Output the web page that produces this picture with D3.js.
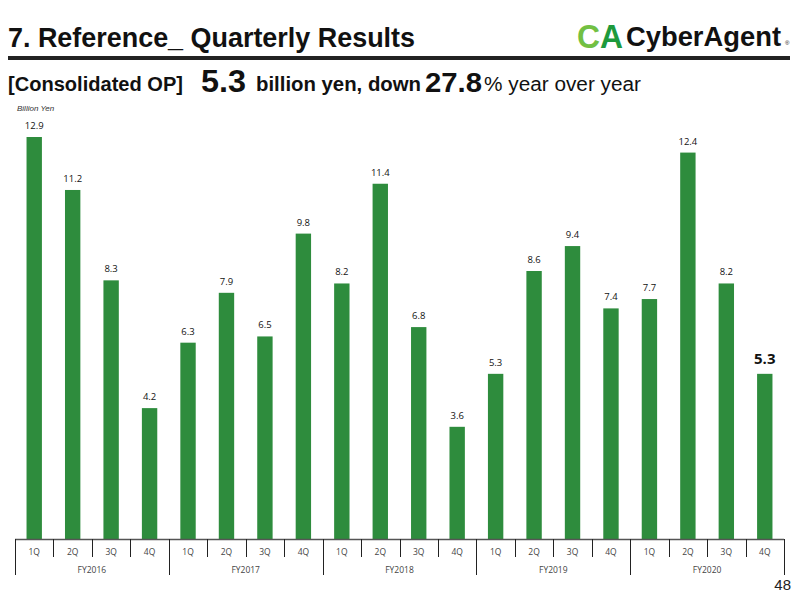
<!DOCTYPE html>
<html>
<head>
<meta charset="utf-8">
<script src="https://cdn.jsdelivr.net/npm/d3@7"></script>
<style>
  body { margin: 0; background: #fff; }
  svg { display: block; }
</style>
</head>
<body>
<svg width="800" height="600"></svg>
<script>
const years = ["FY2016", "FY2017", "FY2018", "FY2019", "FY2020"];
const quarters = ["1Q", "2Q", "3Q", "4Q"];
const opValues = [12.9, 11.2, 8.3, 4.2, 6.3, 7.9, 6.5, 9.8, 8.2, 11.4, 6.8, 3.6, 5.3, 8.6, 9.4, 7.4, 7.7, 12.4, 8.2, 5.3];

const data = [];
years.forEach((fy, i) => {
  quarters.forEach((q, j) => {
    data.push({ key: fy + "-" + q, fy: fy, q: q, value: opValues[i * 4 + j] });
  });
});

const svg = d3.select("svg");
const font = "'Liberation Sans', Arial, sans-serif";
const barColor = "#2e8c3d";

// squeezed text helper (narrow headline font look)
function fitText(x, y, size, width, str, weight) {
  return svg.append("text")
    .attr("x", x).attr("y", y)
    .attr("font-family", font).attr("font-weight", weight || "bold")
    .attr("font-size", size).attr("fill", "#111")
    .attr("textLength", width).attr("lengthAdjust", "spacingAndGlyphs")
    .text(str);
}

// header
fitText(8, 47, 28, 407, "7. Reference_ Quarterly Results");

svg.append("rect")
  .attr("x", 8).attr("y", 56).attr("width", 782).attr("height", 4)
  .attr("fill", "#222");

// logo
const ca = svg.append("text").attr("x", 577).attr("y", 48)
  .attr("font-family", font).attr("font-weight", "bold")
  .attr("font-size", 34)
  .attr("textLength", 46).attr("lengthAdjust", "spacingAndGlyphs");
ca.append("tspan").attr("fill", "#72c043").text("C");
ca.append("tspan").attr("fill", "#1e9a3c").text("A");
fitText(626, 46, 28, 155, "CyberAgent");
svg.append("text").attr("x", 785).attr("y", 45)
  .attr("font-family", font).attr("font-size", 6).attr("fill", "#111").text("®");

// subtitle
fitText(8, 91, 20, 175, "[Consolidated OP]");
fitText(201, 92, 32, 45, "5.3");
fitText(256, 91, 20, 165, "billion yen, down");
fitText(425, 92, 28, 57, "27.8");
fitText(484, 91, 20, 157, "% year over year", "normal");

svg.append("text")
  .attr("x", 17).attr("y", 111)
  .attr("font-family", font)
  .attr("font-style", "italic").attr("font-size", 8).attr("fill", "#333")
  .text("Billion Yen");

// chart
const x0 = 15, x1 = 784, baseY = 539;
const x = d3.scaleBand()
  .domain(data.map(d => d.key))
  .range([x0, x1])
  .paddingInner(0.6)
  .paddingOuter(0.3);

const y = d3.scaleLinear()
  .domain([0, 12.9])
  .range([baseY, 137]);

svg.append("g")
  .selectAll("rect")
  .data(data)
  .join("rect")
  .attr("x", d => x(d.key))
  .attr("y", d => y(d.value))
  .attr("width", x.bandwidth())
  .attr("height", d => baseY - y(d.value))
  .attr("fill", barColor);

const labelFont = "'Open Sans', 'DejaVu Sans', sans-serif";
svg.append("g")
  .selectAll("text")
  .data(data)
  .join("text")
  .attr("x", d => x(d.key) + x.bandwidth() / 2)
  .attr("y", (d, i) => y(d.value) - (i === data.length - 1 ? 10 : 8))
  .attr("text-anchor", "middle")
  .attr("font-family", labelFont)
  .attr("font-size", (d, i) => i === data.length - 1 ? 15 : 9.5)
  .attr("font-weight", (d, i) => i === data.length - 1 ? "bold" : "normal")
  .attr("fill", "#111")
  .text(d => d.value.toFixed(1));

// category axis
const step = x.step();
const axis = svg.append("g").attr("stroke", "#555").attr("stroke-width", 1);
axis.append("line")
  .attr("x1", x0).attr("x2", x1).attr("y1", baseY + 0.5).attr("y2", baseY + 0.5)
  .attr("stroke-width", 1.5);

d3.range(data.length + 1).forEach(i => {
  const xx = Math.round(x0 + i * step) + 0.5;
  const isYear = i % 4 === 0;
  axis.append("line")
    .attr("x1", xx).attr("x2", xx)
    .attr("y1", baseY).attr("y2", isYear ? 575 : 557)
    .attr("stroke", "#222");
});

svg.append("g")
  .selectAll("text")
  .data(data)
  .join("text")
  .attr("x", d => x(d.key) + x.bandwidth() / 2)
  .attr("y", 555)
  .attr("text-anchor", "middle")
  .attr("font-family", labelFont)
  .attr("font-size", 8.5).attr("fill", "#444")
  .text(d => d.q);

svg.append("g")
  .selectAll("text")
  .data(years)
  .join("text")
  .attr("x", (d, i) => x0 + (i * 4 + 2) * step)
  .attr("y", 573)
  .attr("text-anchor", "middle")
  .attr("font-family", labelFont)
  .attr("font-size", 8.5).attr("fill", "#444")
  .text(d => d);

svg.append("text")
  .attr("x", 791).attr("y", 590)
  .attr("text-anchor", "end")
  .attr("font-family", font)
  .attr("font-size", 15).attr("fill", "#222")
  .text("48");
</script>
</body>
</html>
